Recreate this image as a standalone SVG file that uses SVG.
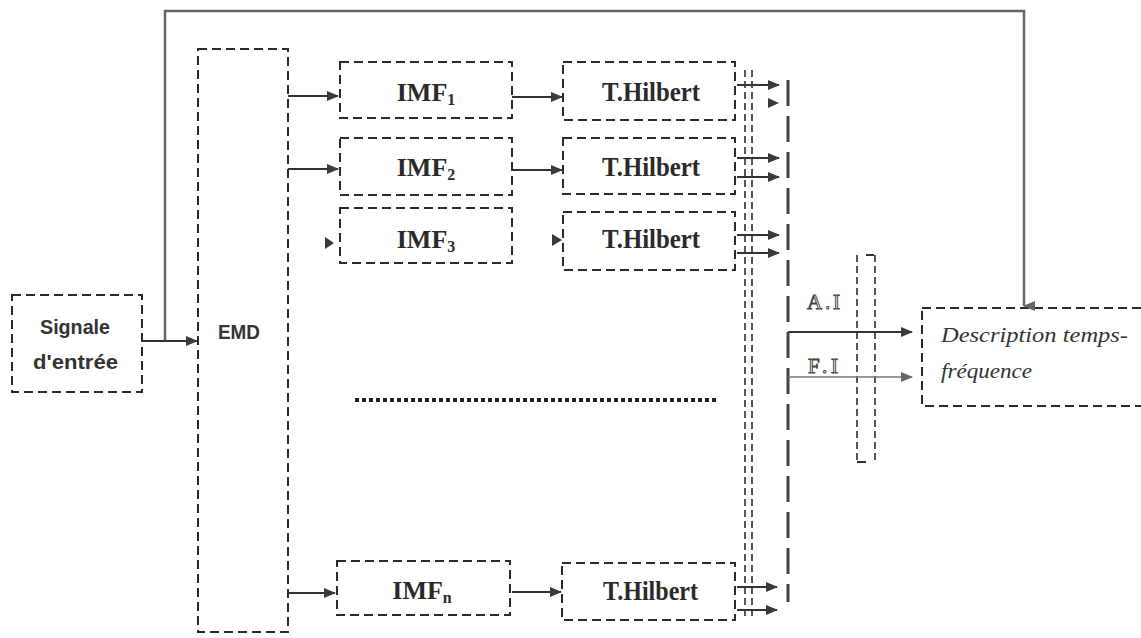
<svg xmlns="http://www.w3.org/2000/svg" width="1141" height="638" viewBox="0 0 1141 638">
<style>
.box{fill:none;stroke:#2a2a2a;stroke-width:2;stroke-dasharray:9 5}
.vd{fill:none;stroke:#555;stroke-width:2;stroke-dasharray:7 4}
.vt{fill:none;stroke:#444;stroke-width:3;stroke-dasharray:26 10}
.ln{fill:none;stroke:#333;stroke-width:2}
.lg{fill:none;stroke:#777;stroke-width:1.5}
.fb{fill:none;stroke:#666;stroke-width:2.5}
.ah{fill:#3a3a3a}
.lbl{font-family:"Liberation Serif",serif;font-weight:bold;font-size:26px;fill:#2a2a2a;text-anchor:middle}
.hil{font-family:"Liberation Serif",serif;font-weight:bold;font-size:28px;fill:#2a2a2a}
.sub{font-size:16px}
.san{font-family:"Liberation Sans",sans-serif;font-weight:bold;font-size:20px;fill:#333}
.ai{font-family:"Liberation Serif",serif;font-size:21px;fill:#fff;stroke:#444;stroke-width:1}
.desc{font-family:"Liberation Serif",serif;font-style:italic;font-size:22px;fill:#333}
</style>
<defs>
<marker id="arr" markerUnits="userSpaceOnUse" markerWidth="12" markerHeight="10" refX="11" refY="5" orient="auto">
<path d="M0,0 L12,5 L0,10 Z" fill="#3a3a3a"/>
</marker>
<marker id="arrg" markerUnits="userSpaceOnUse" markerWidth="12" markerHeight="10" refX="11" refY="5" orient="auto">
<path d="M0,0 L12,5 L0,10 Z" fill="#666"/>
</marker>
<marker id="arrd" markerUnits="userSpaceOnUse" markerWidth="10" markerHeight="12" refX="5" refY="11" orient="auto">
<path d="M0,0 L10,0 L5,12 Z" fill="#666"/>
</marker>
</defs>

<g id="signal">
<rect class="box" x="12" y="295" width="130" height="97"/>
<text class="san" x="40" y="334" textLength="70" lengthAdjust="spacingAndGlyphs">Signale</text>
<text class="san" x="33" y="369" textLength="85" lengthAdjust="spacingAndGlyphs">d'entrée</text>
</g>
<g id="emd">
<rect class="box" x="198" y="49" width="90" height="583"/>
<text class="san" x="218" y="339" font-size="17" textLength="42" lengthAdjust="spacingAndGlyphs">EMD</text>
</g>
<g id="imf1">
<rect class="box" x="340" y="62" width="172" height="56"/>
<text class="lbl" x="426" y="101">IMF<tspan class="sub" dy="4">1</tspan></text>
</g>
<g id="imf2">
<rect class="box" x="340" y="138" width="172" height="57"/>
<text class="lbl" x="426" y="176">IMF<tspan class="sub" dy="4">2</tspan></text>
</g>
<g id="imf3">
<rect class="box" x="340" y="208" width="172" height="55"/>
<text class="lbl" x="426" y="248">IMF<tspan class="sub" dy="4">3</tspan></text>
</g>
<g id="imfn">
<rect class="box" x="337" y="561" width="173" height="54"/>
<text class="lbl" x="422" y="599">IMF<tspan class="sub" dy="4">n</tspan></text>
</g>
<g id="hilbert1">
<rect class="box" x="563" y="62" width="172" height="58"/>
<text class="hil" x="602" y="101" textLength="98" lengthAdjust="spacingAndGlyphs">T.Hilbert</text>
</g>
<g id="hilbert2">
<rect class="box" x="563" y="138" width="172" height="56"/>
<text class="hil" x="602" y="176" textLength="98" lengthAdjust="spacingAndGlyphs">T.Hilbert</text>
</g>
<g id="hilbert3">
<rect class="box" x="563" y="212" width="172" height="58"/>
<text class="hil" x="602" y="248" textLength="98" lengthAdjust="spacingAndGlyphs">T.Hilbert</text>
</g>
<g id="hilbertn">
<rect class="box" x="562" y="563" width="173" height="57"/>
<text class="hil" x="603" y="600" textLength="95" lengthAdjust="spacingAndGlyphs">T.Hilbert</text>
</g>
<g id="collector">
<line class="vd" x1="745" y1="70" x2="745" y2="618"/>
<line class="vd" x1="752" y1="70" x2="752" y2="618"/>
<line class="vt" x1="788" y1="80" x2="788" y2="602"/>
</g>
<g id="combiner">
<line class="vd" x1="857" y1="255" x2="857" y2="462"/>
<line class="vd" x1="875" y1="255" x2="875" y2="462"/>
<line class="ln" x1="866" y1="255" x2="874" y2="255"/>
<line class="ln" x1="857" y1="462" x2="866" y2="462"/>
</g>
<g id="description">
<rect class="box" x="922" y="308" width="230" height="98"/>
<text class="desc" x="941" y="342" textLength="187" lengthAdjust="spacingAndGlyphs">Description temps-</text>
<text class="desc" x="941" y="378" textLength="91" lengthAdjust="spacingAndGlyphs">fréquence</text>
</g>
<g id="labels">
<text class="ai" x="807" y="309" textLength="33">A.I</text>
<text class="ai" x="808" y="373" textLength="30">F.I</text>
<line x1="355" y1="400" x2="718" y2="400" stroke="#222" stroke-width="4" stroke-dasharray="4 3"/>
</g>

<g id="connectors">
<polyline class="fb" points="165,341 165,11 1024,11 1024,306" marker-end="url(#arrd)"/>
<line class="ln" x1="142" y1="341" x2="197" y2="341" marker-end="url(#arr)"/>
<line class="ln" x1="288" y1="96" x2="338" y2="96" marker-end="url(#arr)"/>
<line class="ln" x1="288" y1="169" x2="338" y2="169" marker-end="url(#arr)"/>
<path class="ah" d="M325,237 L334,243 L325,249 Z"/>
<line class="ln" x1="288" y1="593" x2="335" y2="593" marker-end="url(#arr)"/>
<line class="ln" x1="512" y1="97" x2="562" y2="97" marker-end="url(#arr)"/>
<line class="ln" x1="512" y1="170" x2="562" y2="170" marker-end="url(#arr)"/>
<path class="ah" d="M552,234 L562,240 L552,246 Z"/>
<line class="ln" x1="512" y1="592" x2="561" y2="592" marker-end="url(#arr)"/>
<line class="ln" x1="737" y1="85" x2="779" y2="85" marker-end="url(#arr)"/>
<path class="ah" d="M768,98 L779,103 L768,108 Z"/>
<line class="ln" x1="737" y1="158" x2="779" y2="158" marker-end="url(#arr)"/>
<line class="ln" x1="737" y1="177" x2="779" y2="177" marker-end="url(#arr)"/>
<line class="ln" x1="737" y1="235" x2="779" y2="235" marker-end="url(#arr)"/>
<line class="ln" x1="737" y1="253" x2="779" y2="253" marker-end="url(#arr)"/>
<line class="ln" x1="737" y1="587" x2="777" y2="587" marker-end="url(#arr)"/>
<line class="ln" x1="737" y1="610" x2="777" y2="610" marker-end="url(#arr)"/>
<line class="ln" x1="788" y1="332" x2="912" y2="332" marker-end="url(#arr)"/>
<line class="lg" x1="788" y1="377" x2="912" y2="377" marker-end="url(#arrg)"/>
</g>
</svg>
